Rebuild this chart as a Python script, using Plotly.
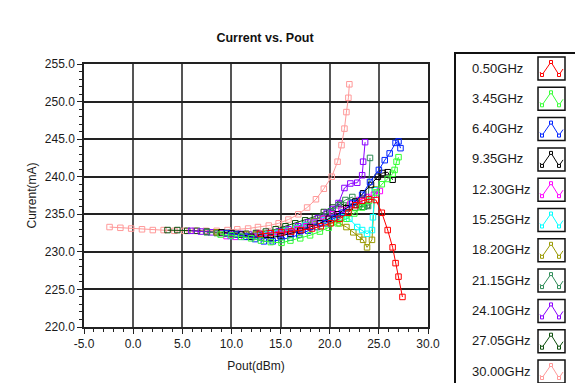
import plotly.graph_objects as go

# ---------------- data ----------------
series_names = ["0.50GHz", "3.45GHz", "6.40GHz", "9.35GHz", "12.30GHz", "15.25GHz",
                "18.20GHz", "21.15GHz", "24.10GHz", "27.05GHz", "30.00GHz"]

x_050 = [12.9, 14.0, 15.1, 16.1, 17.1, 18.2, 19.1, 20.1, 21.0, 21.9, 22.6, 23.3, 24.0, 24.7, 25.3, 25.9, 26.4, 26.7, 27.0, 27.4]
y_050 = [232.4, 232.5, 232.6, 232.7, 232.9, 233.1, 233.4, 233.8, 234.4, 235.2, 236.2, 236.8, 237.0, 236.9, 235.2, 232.9, 230.6, 228.5, 226.7, 224.0]

x_345 = [8.9, 10.0, 11.0, 12.0, 13.0, 14.0, 15.1, 16.0, 17.0, 18.0, 19.0, 19.9, 20.8, 21.7, 22.5, 23.3, 24.0, 24.7, 25.3, 25.9, 26.4, 26.6, 26.8, 27.0]
y_345 = [232.3, 232.2, 232.0, 231.8, 231.5, 231.3, 231.2, 231.5, 231.8, 232.2, 232.7, 233.2, 233.8, 234.4, 235.1, 235.9, 236.8, 237.9, 239.0, 239.7, 240.4, 240.9, 242.0, 242.6]

x_640 = [9.5, 10.5, 11.5, 12.4, 13.3, 14.2, 15.1, 16.0, 16.9, 17.8, 18.7, 19.6, 20.5, 21.3, 22.3, 23.3, 24.1, 25.0, 25.6, 26.1, 26.7, 27.0, 27.2]
y_640 = [232.5, 232.3, 232.0, 231.7, 231.4, 231.4, 231.6, 231.9, 232.3, 232.8, 233.3, 233.8, 234.5, 235.2, 236.5, 237.6, 239.3, 240.9, 242.2, 243.1, 244.5, 244.7, 243.8]

x_935 = [9.0, 10.0, 11.0, 12.0, 13.0, 14.0, 15.0, 16.0, 17.0, 18.0, 19.0, 19.9, 20.8, 21.7, 22.6, 23.4, 24.2, 24.9, 25.4, 25.9, 26.4]
y_935 = [232.6, 232.5, 232.3, 232.0, 231.9, 231.9, 232.1, 232.4, 232.8, 233.3, 233.8, 234.4, 235.0, 235.8, 236.7, 237.8, 238.9, 240.0, 240.5, 240.6, 239.6]

x_1230 = [9.5, 10.4, 11.3, 12.2, 13.1, 14.0, 14.9, 15.8, 16.7, 17.6, 18.5, 19.4, 20.3, 21.2, 22.1, 23.0, 23.8, 24.5, 25.1]
y_1230 = [232.1, 232.0, 232.0, 232.0, 232.1, 232.2, 232.4, 232.7, 233.0, 233.4, 233.9, 234.4, 235.0, 235.6, 236.3, 236.9, 237.3, 237.6, 238.1]

x_1525 = [9.9, 10.9, 11.8, 12.8, 13.7, 14.7, 15.6, 16.6, 17.5, 18.5, 19.4, 20.3, 21.2, 22.0, 22.8, 23.3, 23.8, 24.3, 24.4, 24.6]
y_1525 = [232.1, 232.0, 232.0, 232.1, 232.3, 232.5, 232.8, 233.1, 233.5, 233.9, 234.2, 234.5, 234.6, 234.4, 233.3, 232.9, 232.4, 232.9, 234.6, 238.2]

x_1820 = [8.5, 9.5, 10.5, 11.5, 12.5, 13.5, 14.5, 15.5, 16.5, 17.5, 18.4, 19.3, 20.2, 21.0, 21.7, 22.4, 23.0, 23.4, 23.8, 24.3, 24.6]
y_1820 = [232.6, 232.5, 232.3, 232.3, 232.3, 232.4, 232.5, 232.8, 233.1, 233.5, 234.0, 234.3, 234.2, 233.8, 233.3, 232.6, 232.0, 231.6, 230.6, 231.6, 238.3]

x_2115 = [7.5, 8.5, 9.5, 10.5, 11.5, 12.5, 13.5, 14.5, 15.5, 16.5, 17.5, 18.4, 19.3, 20.1, 20.9, 21.6, 22.3, 23.0, 23.5, 23.9, 24.1]
y_2115 = [232.6, 232.5, 232.4, 232.3, 232.3, 232.3, 232.4, 232.6, 232.9, 233.2, 233.6, 234.1, 234.7, 235.4, 236.2, 236.9, 237.3, 236.4, 236.0, 236.1, 242.5]

x_2410 = [5.9, 6.9, 7.9, 8.9, 9.9, 10.9, 11.8, 12.8, 13.8, 14.8, 15.8, 16.8, 17.8, 18.8, 19.7, 20.3, 20.9, 21.5, 22.1, 22.8, 23.3, 23.4, 23.6]
y_2410 = [232.8, 232.7, 232.6, 232.5, 232.4, 232.4, 232.3, 232.4, 232.5, 232.7, 233.0, 233.4, 233.9, 234.5, 235.2, 235.7, 236.5, 238.5, 239.1, 239.2, 240.2, 242.0, 244.6]

x_2705 = [3.5, 4.5, 5.5, 6.5, 7.5, 8.5, 9.5, 10.5, 11.5, 12.5, 13.5, 14.5, 15.5, 16.5, 17.5, 18.5, 19.4, 20.3, 21.1, 21.9, 22.6, 23.3, 23.8]
y_2705 = [232.9, 232.9, 232.8, 232.8, 232.7, 232.6, 232.5, 232.4, 232.4, 232.5, 232.7, 233.0, 233.4, 233.8, 234.2, 234.7, 235.3, 235.9, 236.4, 236.0, 235.9, 236.0, 236.2]

x_3000 = [-2.4, -1.3, -0.2, 0.9, 2.0, 3.1, 4.2, 5.2, 6.3, 7.4, 8.5, 9.6, 10.6, 11.7, 12.7, 13.8, 14.8, 15.8, 16.8, 17.7, 18.6, 19.4, 20.2, 20.8, 21.2, 21.5, 21.7, 21.9, 22.0]
y_3000 = [233.3, 233.2, 233.1, 233.0, 232.9, 232.9, 232.8, 232.8, 232.8, 232.8, 232.8, 232.9, 233.0, 233.1, 233.3, 233.5, 233.8, 234.3, 235.0, 235.9, 237.0, 238.4, 240.0, 242.0, 244.2, 246.4, 248.6, 250.5, 252.3]

series_x = [x_050, x_345, x_640, x_935, x_1230, x_1525, x_1820, x_2115, x_2410, x_2705, x_3000]
series_y = [y_050, y_345, y_640, y_935, y_1230, y_1525, y_1820, y_2115, y_2410, y_2705, y_3000]

x_ticks = [-5, 0, 5, 10, 15, 20, 25, 30]
y_ticks = [220, 225, 230, 235, 240, 245, 250, 255]

# ---------------- styles ----------------
colors = ["#ff0000", "#33ff33", "#0022ff", "#000000", "#ff00ff", "#00ffff",
          "#999900", "#2e8b57", "#8a00ff", "#0b4d0b", "#ff9999"]

W, H = 583, 383
OFF = 8          # page body margin of the html page
L, R, T, B = 84 - OFF, 428 - OFF, 64 - OFF, 327 - OFF   # plot area in figure pixels


def pxx(p):
    # screen pixel -> paper x
    return (p - OFF - L) / (R - L)


def pxy(p):
    # screen pixel -> paper y
    return (B - (p - OFF)) / (B - T)


fig = go.Figure()
# draw in reverse order so lower frequencies are on top
for i in range(len(series_names) - 1, -1, -1):
    fig.add_trace(go.Scatter(
        x=series_x[i], y=series_y[i], mode="lines+markers", name=series_names[i],
        line=dict(color=colors[i], width=1),
        marker=dict(symbol="square-open", size=5.5, color=colors[i], line=dict(width=1)),
        showlegend=False))

font_main = "Liberation Sans, Arial, sans-serif"

fig.update_layout(
    width=W, height=H,
    margin=dict(l=L, r=W - R, t=T, b=H - B, autoexpand=False),
    paper_bgcolor="white", plot_bgcolor="white",
    font=dict(family=font_main, size=12, color="#1a1a1a"),
    title=dict(text="<b>Current vs. Pout</b>", x=(265 - OFF) / W, xanchor="center",
               y=1 - (38 - OFF) / H, yanchor="middle", font=dict(size=12.5, color="#111")),
    showlegend=False,
)
fig.update_xaxes(
    range=[-5, 30], tickvals=x_ticks, ticktext=["%.1f" % v for v in x_ticks],
    showgrid=True, gridcolor="#555", gridwidth=1.5,
    showline=True, linecolor="#222", linewidth=1.5, mirror=True,
    ticks="outside", ticklen=5, tickcolor="#222",
    minor=dict(dtick=1, ticks="outside", ticklen=3, tickcolor="#222", showgrid=False),
    zeroline=False,
    title=dict(text="Pout(dBm)", standoff=11, font=dict(size=12)),
)
fig.update_yaxes(
    range=[220, 255], tickvals=y_ticks, ticktext=["%.1f" % v for v in y_ticks],
    showgrid=True, gridcolor="#222", gridwidth=1.5,
    showline=True, linecolor="#222", linewidth=1.5, mirror=True,
    ticks="outside", ticklen=5, tickcolor="#222",
    minor=dict(dtick=1, ticks="outside", ticklen=3, tickcolor="#222", showgrid=False),
    zeroline=False,
    title=dict(text="Current(mA)", standoff=6, font=dict(size=12)),
)

# ---------------- custom legend (label left, icon right) ----------------
shapes = []
annotations = []
shapes.append(dict(type="rect", xref="paper", yref="paper",
                   x0=pxx(455), x1=pxx(578), y0=pxy(400), y1=pxy(53),
                   line=dict(color="#111", width=2), fillcolor="white", layer="below"))
row_h = 30.3
for i, name in enumerate(series_names):
    c = 68 + i * row_h
    annotations.append(dict(text=name, xref="paper", yref="paper", x=pxx(470), y=pxy(c),
                            xanchor="left", yanchor="middle", showarrow=False,
                            font=dict(size=13, color="#1a1a1a")))
    shapes.append(dict(type="rect", xref="paper", yref="paper",
                       x0=pxx(538), x1=pxx(565), y0=pxy(c + 12), y1=pxy(c - 11),
                       line=dict(color="#111", width=1.5), fillcolor="white"))
    pts = [(540, c + 4), (542, c + 7), (551, c - 6), (559, c + 7), (563, c + 1)]
    path = "M " + " L ".join("%f,%f" % (pxx(a), pxy(b)) for a, b in pts)
    shapes.append(dict(type="path", xref="paper", yref="paper", path=path,
                       line=dict(color=colors[i], width=1)))
    for (a, b) in [(542, c + 7), (551, c - 6), (559, c + 7)]:
        shapes.append(dict(type="rect", xref="paper", yref="paper",
                           x0=pxx(a - 1.5), x1=pxx(a + 1.5), y0=pxy(b + 1.5), y1=pxy(b - 1.5),
                           line=dict(color=colors[i], width=1), fillcolor="white"))

fig.update_layout(shapes=shapes, annotations=annotations)
fig.write_html("out.html")
